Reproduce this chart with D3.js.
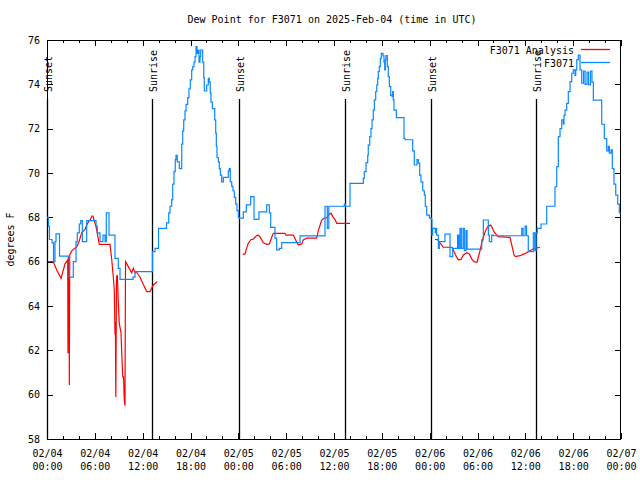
<!DOCTYPE html>
<html>
<head>
<meta charset="utf-8">
<script src="https://cdn.jsdelivr.net/npm/d3@7/dist/d3.min.js"></script>
<style>
html,body{margin:0;padding:0;background:#fff;}
svg{display:block;}
text{font-family:"DejaVu Sans Mono",monospace;font-size:10px;fill:#000;}
</style>
</head>
<body>
<script>
// ---------- data (hours since 02/04 00:00 UTC, degrees F) ----------
const titleText = "Dew Point for F3071 on 2025-Feb-04 (time in UTC)";
const yLabel = "degrees F";
const seriesNames = ["F3071 Analysis", "F3071"];

const obsHours = [0.00,0.19,0.31,0.63,0.82,1.00,1.13,1.57,2.80,3.30,3.64,3.80,4.05,4.23,4.43,4.98,6.15,6.31,6.65,7.02,7.28,7.44,7.78,8.53,8.94,9.16,10.79,11.04,
13.23,13.55,13.99,14.99,15.27,15.43,15.64,15.77,15.93,16.09,16.18,16.34,16.60,16.90,17.02,17.15,17.31,17.44,17.65,17.81,17.98,18.15,18.28,18.44,18.57,18.69,18.82,18.94,19.07,19.19,19.28,19.53,19.66,19.73,20.03,20.23,20.36,20.48,20.57,20.74,21.04,21.16,21.24,21.32,21.49,21.61,21.74,21.91,22.12,22.74,22.87,22.99,23.17,23.33,23.49,23.67,23.83,24.00,
24.12,24.62,25.00,25.55,25.97,26.59,27.56,27.89,28.06,28.60,28.81,29.14,29.44,31.74,34.87,35.16,35.35,37.29,37.44,38.01,
39.68,39.80,40.02,40.23,40.30,40.48,40.64,40.77,40.93,41.06,41.23,41.36,41.48,41.56,41.68,41.81,41.93,42.15,42.27,42.36,42.44,42.52,42.69,42.81,42.94,43.11,43.28,43.36,43.44,43.53,43.82,44.78,44.91,45.87,46.07,46.41,46.58,46.75,46.91,47.13,47.33,47.45,47.63,47.96,
48.21,48.29,48.38,48.71,48.80,48.88,49.09,49.21,49.92,50.55,50.89,51.50,51.65,51.81,51.97,52.19,52.35,52.56,52.69,54.53,54.73,55.36,55.48,55.78,55.98,59.55,59.72,59.97,60.15,60.37,61.00,61.18,61.34,61.50,61.97,
62.68,63.72,63.94,64.14,64.35,64.56,64.77,64.85,64.98,65.19,65.39,65.61,65.82,66.02,66.23,66.32,66.45,66.65,66.86,67.07,67.30,67.49,67.74,67.93,68.17,68.36,68.53,69.58,69.91,70.21,70.41,70.54,70.75,70.91,71.12,71.34,71.59,71.79,71.97];
const obsDew = [68.0,67.6,67.0,66.85,66.0,66.9,67.25,66.25,65.3,66.0,66.9,67.3,67.7,67.85,66.9,67.85,67.6,67.3,66.9,67.2,66.9,68.2,67.2,66.15,65.7,65.2,65.3,65.55,
66.45,66.6,67.5,67.75,68.2,68.5,68.8,69.5,70.06,70.6,70.8,70.5,70.2,71.3,71.9,72.4,72.8,73.1,73.4,73.8,74.2,74.65,74.8,75.0,75.25,75.7,75.4,75.55,75.0,75.25,75.55,75.0,74.3,73.7,73.97,74.27,74.1,73.6,73.2,72.9,72.4,71.8,71.2,70.7,70.5,70.2,69.9,69.6,69.8,70.1,70.2,69.6,69.4,69.2,68.9,68.6,68.3,68.0,
67.96,68.25,68.56,68.93,67.91,68.25,68.56,68.2,67.55,67.06,66.53,66.6,66.86,67.16,68.5,67.5,68.5,68.6,68.5,69.53,
69.76,70.06,70.47,70.8,71.26,71.64,72.0,72.4,72.84,73.3,73.67,73.97,74.27,74.57,74.8,75.17,75.4,75.28,75.0,74.65,75.1,75.3,74.8,74.35,73.9,73.5,73.44,73.67,73.3,72.84,72.5,71.56,71.5,71.0,70.36,70.6,70.45,69.9,69.6,69.2,69.0,68.5,68.1,67.96,
67.9,67.2,67.5,67.3,67.5,67.2,66.6,66.9,67.24,66.23,66.6,67.2,66.6,67.5,66.6,67.5,66.5,67.4,66.57,66.98,67.88,67.2,66.9,67.2,67.17,67.5,67.17,67.6,67.17,66.45,67.3,66.5,67.3,67.5,67.7,
68.5,69.38,70.29,71.64,72.0,72.4,72.2,72.6,72.84,73.14,73.67,74.12,74.5,74.65,74.4,74.65,75.1,75.32,74.65,74.05,74.6,74.0,74.55,73.97,74.6,74.1,73.29,72.2,71.55,71.0,71.2,70.9,71.05,70.2,69.5,69.0,68.6,68.2,68.2];

// analysis series: null marks a gap
const anaHours = [0.13,0.79,1.25,1.76,2.26,2.47,2.60,2.63,2.67,2.76,2.80,2.85,3.14,3.73,4.01,4.35,4.77,5.08,5.39,5.64,5.77,5.90,6.15,6.31,6.56,7.90,8.12,8.32,8.44,8.53,8.58,8.63,8.72,8.82,8.94,9.07,9.28,9.41,9.50,9.60,9.70,9.78,9.85,10.16,10.62,10.83,11.04,11.29,11.67,12.04,12.51,12.92,13.33,13.84,
19.0,
24.55,24.84,25.03,25.25,25.59,25.84,26.22,26.47,26.72,27.13,27.56,27.89,28.19,28.39,29.85,29.98,30.90,31.23,31.52,31.95,32.15,32.58,33.83,34.03,34.46,34.75,35.09,35.37,35.62,35.91,36.13,36.34,38.01,
43.0,
48.67,48.96,49.17,49.51,49.71,50.80,51.12,51.39,51.59,51.93,52.22,52.65,52.97,53.31,53.56,53.94,54.10,54.32,54.53,54.73,55.01,55.32,55.63,55.82,56.07,56.41,56.61,58.08,58.33,58.58,58.77,59.33,59.84,60.37,61.00,61.84];
const anaDew = [66.0,66.0,65.6,65.25,65.9,66.0,66.1,61.87,66.2,66.2,60.44,66.3,66.5,66.68,66.9,67.3,67.46,67.73,67.88,68.06,68.06,67.88,67.58,67.28,66.78,66.78,66.1,65.3,64.7,62.7,63.3,59.9,65.3,65.4,64.2,63.2,62.8,61.6,60.8,60.8,59.7,59.5,66.0,65.8,65.5,65.7,65.5,65.5,65.3,65.0,64.65,64.65,64.95,65.1,
null,
66.33,66.35,66.6,66.83,67.0,67.0,67.15,67.2,67.12,66.85,66.78,66.8,67.1,67.28,67.28,67.2,67.2,66.95,66.75,66.8,66.98,67.06,67.06,67.4,67.88,67.96,67.98,68.15,68.18,68.0,67.9,67.73,67.73,
null,
67.0,67.0,66.9,66.75,66.65,66.65,66.4,66.2,66.08,66.1,66.3,66.4,66.35,66.1,66.0,65.97,66.2,66.5,66.85,67.1,67.4,67.6,67.65,67.55,67.35,67.2,67.13,67.1,66.7,66.3,66.23,66.27,66.35,66.45,66.58,66.65];

const sunHours = [0.05, 13.23, 24.08, 37.32, 48.21, 61.28];
const sunLabels = ["Sunset","Sunrise","Sunset","Sunrise","Sunset","Sunrise"];

const xMajorHours = [0,6,12,18,24,30,36,42,48,54,60,66,72];
const xDateLabels = ["02/04","02/04","02/04","02/04","02/05","02/05","02/05","02/05","02/06","02/06","02/06","02/06","02/07"];
const xTimeLabels = ["00:00","06:00","12:00","18:00","00:00","06:00","12:00","18:00","00:00","06:00","12:00","18:00","00:00"];
const yTicks = [58,60,62,64,66,68,70,72,74,76];

// ---------- layout ----------
const W = 640, H = 480;
const L = 47, R = 621, T = 40, B = 439;
const red = "#ff0000", blue = "#0a88ff";

const svg = d3.select("body").append("svg").attr("width", W).attr("height", H);
svg.append("rect").attr("width", W).attr("height", H).attr("fill", "#fff");

const x = d3.scaleLinear().domain([0, 72]).range([L, R]);
const y = d3.scaleLinear().domain([58, 76]).range([B, T]);

const minorHours = d3.range(0, 73, 2).filter(h => h % 6 !== 0);

function styleAxis(g) {
  g.select(".domain").remove();
  g.selectAll(".tick line").attr("stroke", "#000").attr("shape-rendering", "crispEdges");
}

// bottom axis (major, with labels)
const gxb = svg.append("g").attr("transform", `translate(0,${B})`)
  .call(d3.axisBottom(x).tickValues(xMajorHours).tickSizeInner(-6).tickSizeOuter(0).tickFormat(""));
styleAxis(gxb);
gxb.selectAll(".tick text").remove();
gxb.selectAll(".tick").each(function(d, i) {
  const g = d3.select(this);
  g.append("text").attr("y", 18).attr("text-anchor", "middle").attr("fill", "#000").text(xDateLabels[i]);
  g.append("text").attr("y", 31).attr("text-anchor", "middle").attr("fill", "#000").text(xTimeLabels[i]);
});
const gxbm = svg.append("g").attr("transform", `translate(0,${B})`)
  .call(d3.axisBottom(x).tickValues(minorHours).tickSizeInner(-3).tickSizeOuter(0).tickFormat(""));
styleAxis(gxbm);

// top mirror axis
const gxt = svg.append("g").attr("transform", `translate(0,${T})`)
  .call(d3.axisTop(x).tickValues(xMajorHours).tickSizeInner(-6).tickSizeOuter(0).tickFormat(""));
styleAxis(gxt);
const gxtm = svg.append("g").attr("transform", `translate(0,${T})`)
  .call(d3.axisTop(x).tickValues(minorHours).tickSizeInner(-3).tickSizeOuter(0).tickFormat(""));
styleAxis(gxtm);

// left axis
const gyl = svg.append("g").attr("transform", `translate(${L},0)`)
  .call(d3.axisLeft(y).tickValues(yTicks).tickSizeInner(-6).tickSizeOuter(0).tickPadding(7).tickFormat(d3.format("d")));
styleAxis(gyl);
gyl.selectAll(".tick text").attr("fill", "#000").style("font-family", "DejaVu Sans Mono").style("font-size", "10px");

// right mirror axis
const gyr = svg.append("g").attr("transform", `translate(${R},0)`)
  .call(d3.axisRight(y).tickValues(yTicks).tickSizeInner(-6).tickSizeOuter(0).tickFormat(""));
styleAxis(gyr);

// plot border
svg.append("rect").attr("x", L + 0.5).attr("y", T + 0.5).attr("width", R - L - 1).attr("height", B - T)
  .attr("fill", "none").attr("stroke", "#000").attr("stroke-width", 1).attr("shape-rendering", "crispEdges");

// sunrise / sunset markers
const sun = svg.append("g");
sunHours.forEach((h, i) => {
  const px = Math.round(x(h)) + 0.5;
  sun.append("line").attr("x1", px).attr("x2", px).attr("y1", 99).attr("y2", B)
    .attr("stroke", "#000").attr("stroke-width", 1.3);
  sun.append("text").attr("transform", `translate(${px + 4},92) rotate(-90)`)
    .attr("text-anchor", "start").text(sunLabels[i]);
});

// data lines
const obs = obsHours.map((h, i) => ({h, v: obsDew[i]}));
const ana = anaHours.map((h, i) => ({h, v: anaDew[i]}));

const redLine = d3.line().defined(d => d.v != null).x(d => x(d.h)).y(d => y(d.v));
const blueLine = d3.line().curve(d3.curveStepAfter).x(d => x(d.h)).y(d => y(d.v));

svg.append("path").datum(ana).attr("d", redLine).attr("fill", "none")
  .attr("stroke", red).attr("stroke-width", 1.2).attr("stroke-linejoin", "miter");
svg.append("path").datum(obs).attr("d", blueLine).attr("fill", "none")
  .attr("stroke", blue).attr("stroke-width", 1.2);

// title and axis label
svg.append("text").attr("x", 332).attr("y", 23).attr("text-anchor", "middle").text(titleText);
svg.append("text").attr("transform", `translate(14,${(T + B) / 2}) rotate(-90)`)
  .attr("text-anchor", "middle").text(yLabel);

// legend
const legColors = [red, blue];
seriesNames.forEach((name, i) => {
  const ly = 49.5 + i * 13;
  svg.append("text").attr("x", 574).attr("y", ly + 4).attr("text-anchor", "end").text(name);
  svg.append("line").attr("x1", 581).attr("x2", 610).attr("y1", ly).attr("y2", ly)
    .attr("stroke", legColors[i]).attr("stroke-width", 1.3);
});
</script>
</body>
</html>
